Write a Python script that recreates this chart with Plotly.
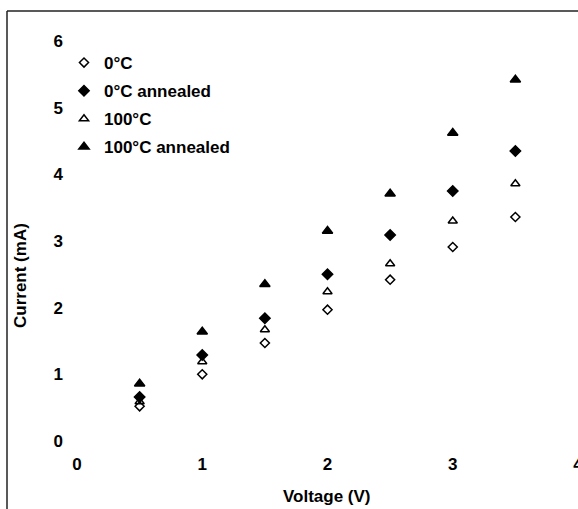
import plotly.graph_objects as go

voltage = [0.5, 1.0, 1.5, 2.0, 2.5, 3.0, 3.5]
series_names = ["0°C", "0°C annealed", "100°C", "100°C annealed"]
i_0c = [0.52, 1.00, 1.47, 1.97, 2.42, 2.91, 3.36]
i_0c_ann = [0.66, 1.29, 1.84, 2.50, 3.09, 3.75, 4.35]
i_100c = [0.59, 1.19, 1.67, 2.24, 2.66, 3.30, 3.86]
i_100c_ann = [0.86, 1.64, 2.35, 3.15, 3.71, 4.62, 5.42]
x_ticks = [0, 1, 2, 3, 4]
y_ticks = [0, 1, 2, 3, 4, 5, 6]

series_values = [i_0c, i_0c_ann, i_100c, i_100c_ann]
symbols = ["diamond-open", "diamond", "triangle-up-open", "triangle-up"]
sizes = [7, 8, 8, 9]

FONT = "Liberation Sans, Arial, sans-serif"
FS = 17

fig = go.Figure()
for k, (name, vals) in enumerate(zip(series_names, series_values)):
    fig.add_trace(go.Scatter(
        x=voltage, y=vals, mode="markers", name=name,
        legendgroup=f"g{k}",
        marker=dict(symbol=symbols[k], size=sizes[k], color="black",
                    line=dict(color="black", width=1.5)),
        cliponaxis=False,
    ))

W, H = 578, 509
L, R, T, B = 77, 0, 41, 68
pw, ph = W - L - R, H - T - B

def px_x(px):
    return (px - L) / pw

def px_y(py):
    return (H - B - py) / ph

fig.update_layout(
    width=W, height=H,
    margin=dict(l=L, r=R, t=T, b=B, autoexpand=False),
    paper_bgcolor="white", plot_bgcolor="white",
    font=dict(family=FONT, size=FS, color="black"),
    showlegend=True,
    legend=dict(
        x=px_x(64), y=px_y(45), xanchor="left", yanchor="top",
        bgcolor="rgba(0,0,0,0)", borderwidth=0,
        font=dict(family=FONT, size=FS, color="black", weight="bold"),
        tracegroupgap=3, itemwidth=30,
    ),
    xaxis=dict(
        range=[0, 4], tickvals=x_ticks, ticktext=[str(v) for v in x_ticks],
        showgrid=False, zeroline=False, showline=False, ticks="",
        ticklabelstandoff=11, ticklabeloverflow="allow", automargin=False,
        tickfont=dict(family=FONT, size=FS, color="black", weight="bold"),
    ),
    yaxis=dict(
        range=[0, 6], tickvals=y_ticks, ticktext=[str(v) for v in y_ticks],
        showgrid=False, zeroline=False, showline=False, ticks="",
        ticklabelstandoff=13, automargin=False,
        tickfont=dict(family=FONT, size=FS, color="black", weight="bold"),
    ),
    annotations=[
        dict(text="Current (mA)", xref="paper", yref="paper",
             x=px_x(20), y=px_y(276), textangle=-90, showarrow=False,
             xanchor="center", yanchor="middle",
             font=dict(family=FONT, size=FS, color="black", weight="bold")),
        dict(text="Voltage (V)", xref="paper", yref="paper",
             x=px_x(327), y=px_y(496), showarrow=False,
             xanchor="center", yanchor="middle",
             font=dict(family=FONT, size=FS, color="black", weight="bold")),
    ],
    shapes=[
        dict(type="line", xref="paper", yref="paper",
             x0=px_x(7), x1=px_x(W + 2), y0=px_y(11), y1=px_y(11),
             line=dict(color="#222", width=1.5)),
        dict(type="line", xref="paper", yref="paper",
             x0=px_x(7), x1=px_x(7), y0=px_y(11), y1=px_y(H + 2),
             line=dict(color="#222", width=1.5)),
    ],
)

fig.write_html("out.html")
